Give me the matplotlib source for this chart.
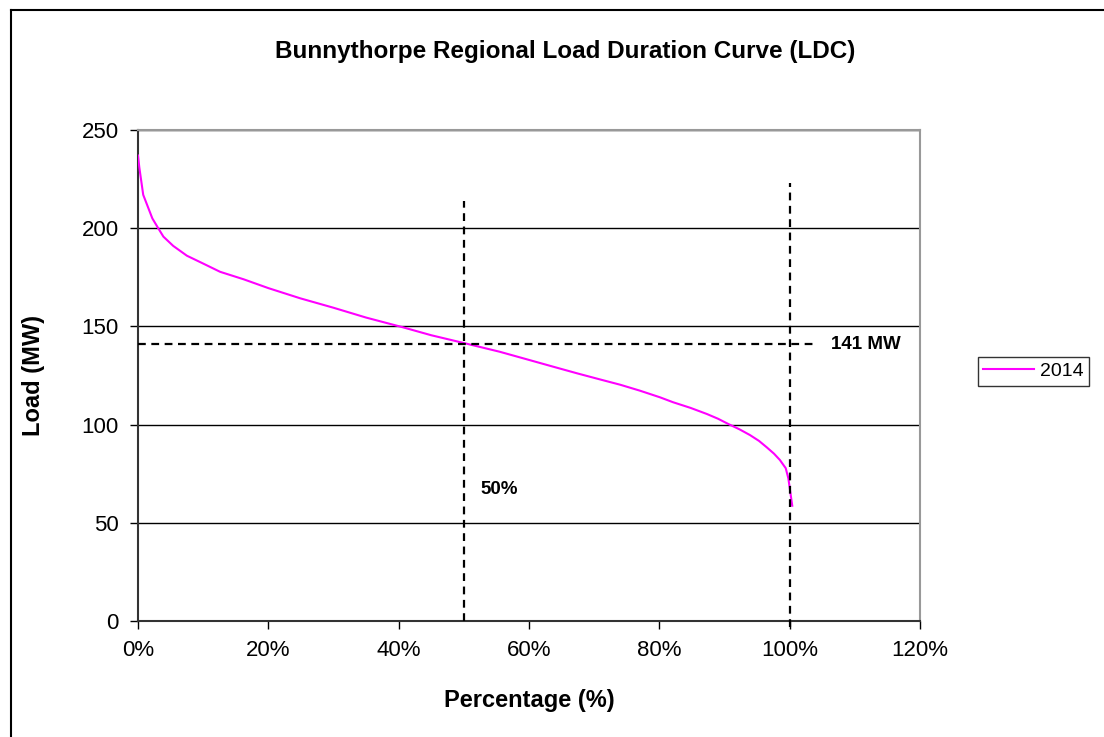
import matplotlib
matplotlib.use("Agg")
import matplotlib.pyplot as plt
from matplotlib.lines import Line2D

plt.rcParams['font.family'] = ['Liberation Sans', 'DejaVu Sans']

# Data
pct = [0.0, 0.2, 0.5, 0.8, 1.5, 2.2, 3.1, 3.9, 5.4, 7.5, 10.0, 12.6, 16.2, 20.0,
       24.9, 30.0, 35.0, 40.7, 45.0, 49.8, 55.5, 59.5, 63.7, 67.5, 70.9, 74.0, 77.0,
       80.1, 82.1, 84.8, 87.3, 89.0, 90.6, 92.3, 93.9, 95.3, 96.5, 97.6, 98.5, 99.4,
       99.8, 100.4]
load = [237, 231, 224, 217, 211, 205, 200, 195.7, 191, 186, 182, 177.8, 174, 169.5,
        164.3, 159.5, 154.5, 149.5, 145.5, 141.7, 137.1, 133.4, 129.5, 126.0, 123.0,
        120.3, 117.3, 113.9, 111.4, 108.5, 105.4, 103.0, 100.3, 97.6, 94.7, 91.7,
        88.4, 85.2, 82.0, 77.8, 72.7, 58.7]
series_label = "2014"

median_pct = 50
median_load = 141
yticks = [0, 50, 100, 150, 200, 250]
xticks = [0, 20, 40, 60, 80, 100, 120]
xtick_labels = ["0%", "20%", "40%", "60%", "80%", "100%", "120%"]

fig = plt.figure(figsize=(11.04, 7.37), dpi=100)
ax = fig.add_axes([0.125, 0.1574, 0.7083, 0.6662])

for y in yticks[1:]:
    ax.axhline(y, color='#000000', lw=1.0, zorder=1)

ax.plot(pct, load, color='#FF00FF', lw=1.5, label=series_label, zorder=3)

dash = (0, (3.5, 2.5))
ax.plot([median_pct, median_pct], [0, 214], color='black', lw=1.6, linestyle=dash, zorder=4)
ax.plot([100, 100], [-3, 223], color='black', lw=1.6, linestyle=dash, zorder=4, clip_on=False)
ax.plot([0, 104], [median_load, median_load], color='black', lw=1.6, linestyle=dash, zorder=4)

ax.text(106.3, median_load, f"{median_load} MW", fontsize=13.5, fontweight='bold',
        va='center', ha='left')
ax.text(52.5, 67, f"{median_pct}%", fontsize=13.5, fontweight='bold', va='center', ha='left')

ax.set_xlim(0, 120)
ax.set_ylim(0, 250)
ax.set_xticks(xticks)
ax.set_xticklabels(xtick_labels)
ax.set_yticks(yticks)
ax.tick_params(axis='both', labelsize=16, length=6, width=1, direction='out', pad=8)

for s in ['left', 'bottom']:
    ax.spines[s].set_color('#333333')
    ax.spines[s].set_linewidth(1.5)
for s in ['top', 'right']:
    ax.spines[s].set_color('#999999')
    ax.spines[s].set_linewidth(1.5)

ax.set_xlabel("Percentage (%)", fontsize=17, fontweight='bold', labelpad=20)
ax.set_ylabel("Load (MW)", fontsize=17, fontweight='bold', labelpad=26)
fig.text(0.512, 0.930, "Bunnythorpe Regional Load Duration Curve (LDC)",
         fontsize=17.5, fontweight='bold', ha='center', va='center')

leg = fig.legend(loc='center', bbox_to_anchor=(0.936, 0.496), frameon=True, fontsize=14,
                 fancybox=False, edgecolor='black', handlelength=2.6, borderpad=0.3,
                 handletextpad=0.3)
leg.get_frame().set_linewidth(1.0)

# outer chart border
fig.add_artist(Line2D([0.01, 0.01], [0, 0.9864], transform=fig.transFigure, color='black', lw=1.5))
fig.add_artist(Line2D([0.01, 1.0], [0.9864, 0.9864], transform=fig.transFigure, color='black', lw=1.5))

fig.savefig("out.png", dpi=100)
